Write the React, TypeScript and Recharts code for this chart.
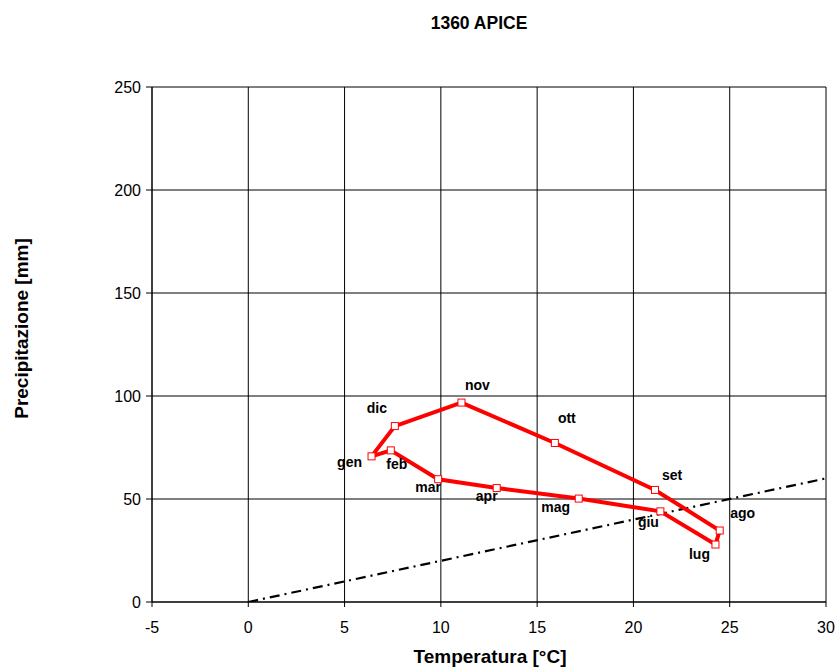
import React from "react";
import {
  ScatterChart, Scatter, XAxis, YAxis, CartesianGrid,
} from "recharts";

// Monthly climate values for station 1360 APICE
const months = ["gen", "feb", "mar", "apr", "mag", "giu", "lug", "ago", "set", "ott", "nov", "dic"];
const temperatures = [6.4, 7.4, 9.86, 12.9, 17.16, 21.4, 24.26, 24.48, 21.12, 15.92, 11.07, 7.61];
const precipitation = [70.7, 73.6, 59.6, 55.3, 50.2, 44.0, 27.9, 34.7, 54.4, 77.2, 96.8, 85.4];

// Bagnouls-Gaussen threshold P = 2T, drawn between its two end points
const thresholdT = [0, 30];
const thresholdP = [0, 60];

const xTicks = [-5, 0, 5, 10, 15, 20, 25, 30];
const yTicks = [0, 50, 100, 150, 200, 250];

// label placement around each marker (dx, dy of the text baseline centre)
const labelOffsets: [number, number][] = [
  [-22, 11], [6, 19], [-10, 13], [-10, 13], [-23, 13], [-12, 16],
  [-16, 14], [23, -13], [17, -10], [12, -20], [16, -13], [-18, -13],
];

const FONT = '"Liberation Sans", Arial, sans-serif';
const RED = "#ff0000";
const W = 838;
const H = 667;

type Pt = { t: number; p: number; name: string; idx: number; closing?: boolean };

const climate: Pt[] = months.map((m, i) => ({ t: temperatures[i], p: precipitation[i], name: m, idx: i }));
// close the loop back to January
climate.push({ ...climate[0], closing: true });

const threshold = thresholdT.map((t, i) => ({ t, p: thresholdP[i] }));

function MonthMarker(props: any) {
  const { cx, cy, payload } = props;
  if (payload.closing) return <g />;
  const [dx, dy] = labelOffsets[payload.idx];
  return (
    <g>
      <rect x={cx - 3.5} y={cy - 3.5} width={7} height={7} fill="#fff" stroke={RED} strokeWidth={1} />
      <text
        x={cx + dx}
        y={cy + dy}
        textAnchor="middle"
        fontFamily={FONT}
        fontWeight="bold"
        fontSize={14}
        fill="#000"
      >
        {payload.name}
      </text>
    </g>
  );
}

const tickStyle = { fill: "#000", fontSize: 16, fontFamily: FONT };

export default function App() {
  return (
    <div style={{ position: "relative", width: W, height: H }}>
      {/* chart fills the whole window */}
      <style>{"html,body{margin:0;padding:0;overflow:hidden}"}</style>
      <ScatterChart width={W} height={H} margin={{ top: 87, right: 12, bottom: 0, left: 8 }}>
        <CartesianGrid stroke="#000" strokeWidth={1} horizontalValues={yTicks} verticalValues={xTicks} />
        <XAxis
          type="number"
          dataKey="t"
          domain={[-5, 30]}
          ticks={xTicks}
          allowDataOverflow
          height={65}
          tickSize={5}
          tickMargin={15}
          tick={tickStyle}
          stroke="#000"
        />
        <YAxis
          type="number"
          dataKey="p"
          domain={[0, 250]}
          ticks={yTicks}
          allowDataOverflow
          width={144}
          tickSize={6}
          tickMargin={5}
          tick={tickStyle}
          stroke="#000"
        />
        <Scatter
          data={threshold}
          line={{ stroke: "#000", strokeWidth: 2.2, strokeDasharray: "10 5 2 5" }}
          lineType="joint"
          shape={() => <g />}
          isAnimationActive={false}
        />
        <Scatter
          data={climate}
          line={{ stroke: RED, strokeWidth: 4 }}
          lineType="joint"
          shape={MonthMarker}
          isAnimationActive={false}
        />
      </ScatterChart>
      <svg
        width={W}
        height={H}
        style={{ position: "absolute", left: 0, top: 0, pointerEvents: "none" }}
      >
        <text x={479} y={29} textAnchor="middle" fontFamily={FONT} fontWeight="bold" fontSize={17.5} fill="#000">
          1360 APICE
        </text>
        <text x={490} y={663} textAnchor="middle" fontFamily={FONT} fontWeight="bold" fontSize={19} fill="#000">
          Temperatura [°C]
        </text>
        <text
          x={28}
          y={328.5}
          transform="rotate(-90 28 328.5)"
          textAnchor="middle"
          fontFamily={FONT}
          fontWeight="bold"
          fontSize={19}
          fill="#000"
        >
          Precipitazione [mm]
        </text>
      </svg>
    </div>
  );
}
